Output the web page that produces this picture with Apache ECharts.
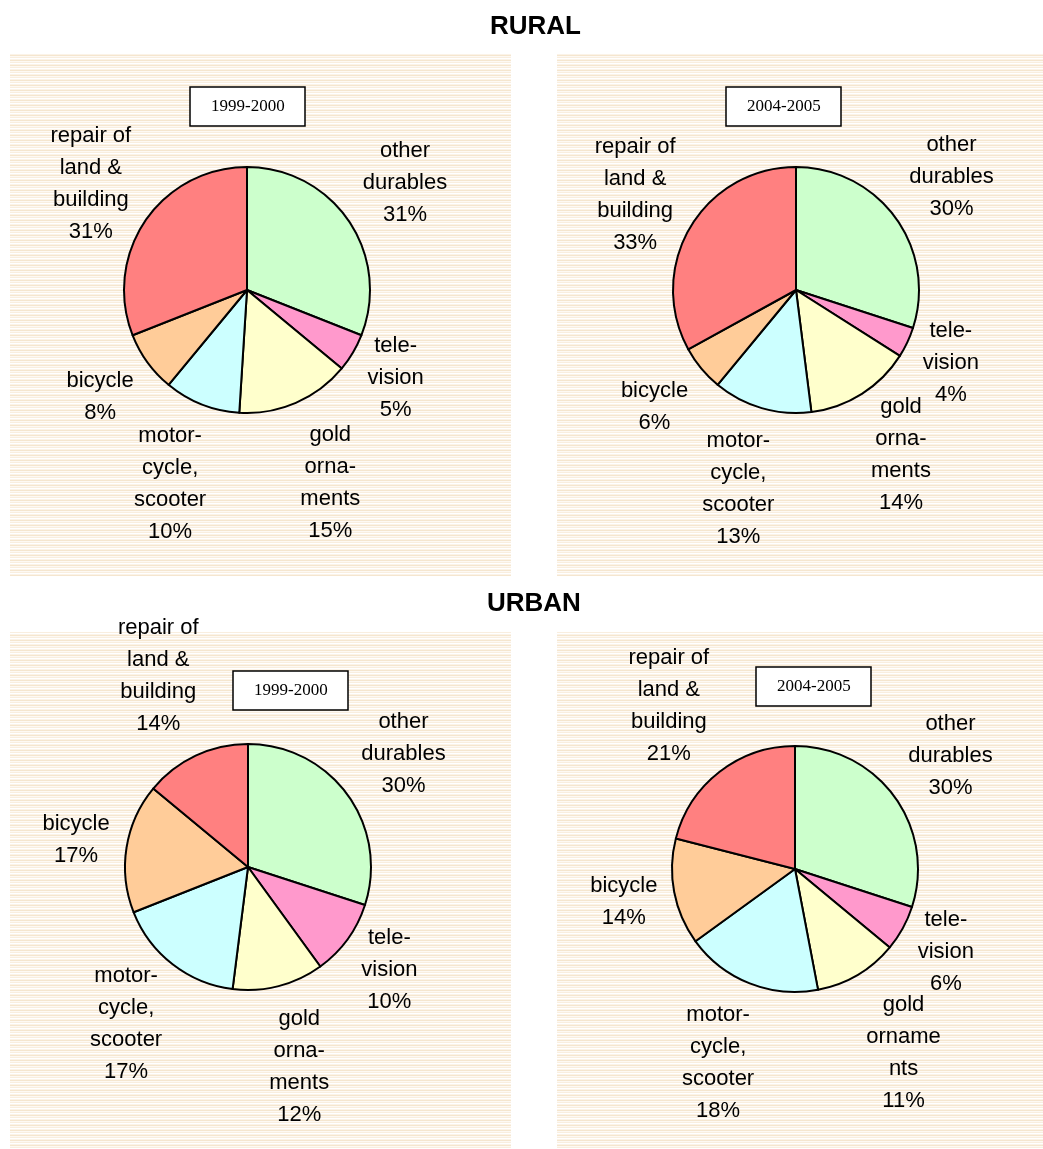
<!DOCTYPE html>
<html>
<head>
<meta charset="utf-8">
<script src="https://cdn.jsdelivr.net/npm/echarts@6/dist/echarts.min.js"></script>
<style>
  html, body { margin: 0; padding: 0; background: #fff; }
  #main { width: 1043px; height: 1149px; }
</style>
</head>
<body>
<div id="main"></div>
<script>
// categories, clockwise from 12 o'clock
var categories = ['other durables', 'television', 'gold ornaments', 'motorcycle, scooter', 'bicycle', 'repair of land & building']
// label text as printed on the chart
var labelText = ['other\ndurables', 'tele-\nvision', 'gold\norna-\nments', 'motor-\ncycle,\nscooter', 'bicycle', 'repair of\nland &\nbuilding']
var labelTextUrban05 = ['other\ndurables', 'tele-\nvision', 'gold\norname\nnts', 'motor-\ncycle,\nscooter', 'bicycle', 'repair of\nland &\nbuilding']
var colors = ['#CCFFCC', '#FF99CC', '#FFFFCC', '#CCFFFF', '#FFCC99', '#FF8080']

// shares, %
var rural2000 = [31, 5, 15, 10, 8, 31]
var rural2005 = [30, 4, 14, 13, 6, 33]
var urban2000 = [30, 10, 12, 17, 17, 14]
var urban2005 = [30, 6, 11, 18, 14, 21]

var headings = ['RURAL', 'URBAN']
var periods = ['1999-2000', '2004-2005']

// striped panel fill
var stripe = document.createElement('canvas')
stripe.width = 8
stripe.height = 5
var sctx = stripe.getContext('2d')
var rows = ['#f5e6cf', '#fdf9f3', '#f9eedf', '#ffffff', '#fbf3e8']
rows.forEach(function (c, i) {
  sctx.fillStyle = c
  sctx.fillRect(0, i, 8, 1)
})
var stripeFill = { image: stripe, repeat: 'repeat' }

var R = 123
var pies = [
  { values: rural2000, labels: labelText, center: [247, 290] },
  { values: rural2005, labels: labelText, center: [796, 290] },
  { values: urban2000, labels: labelText, center: [248, 867] },
  { values: urban2005, labels: labelTextUrban05, center: [795, 869] }
]

// place each label centred just outside the middle of its slice
function placeLabel(params) {
  var p = pies[params.seriesIndex]
  var vals = p.values
  var total = vals.reduce(function (a, b) { return a + b }, 0)
  var before = 0
  for (var i = 0; i < params.dataIndex; i++) before += vals[i]
  var mid = (before + vals[params.dataIndex] / 2) / total * Math.PI * 2
  var dx = Math.sin(mid), dy = -Math.cos(mid)
  var w = params.labelRect.width, h = params.labelRect.height
  var t = Math.min(w / 2 / Math.max(Math.abs(dx), 1e-6), h / 2 / Math.max(Math.abs(dy), 1e-6))
  var d = R + 17 + t
  return {
    x: p.center[0] + dx * d,
    y: p.center[1] + dy * d,
    align: 'center',
    verticalAlign: 'middle'
  }
}

var series = pies.map(function (p) {
  return {
    type: 'pie',
    radius: R,
    center: p.center,
    startAngle: 90,
    clockwise: true,
    avoidLabelOverlap: false,
    animation: false,
    silent: true,
    itemStyle: { borderColor: '#000', borderWidth: 2 },
    label: {
      show: true,
      position: 'outside',
      formatter: '{b}\n{c}%',
      fontFamily: 'Liberation Sans, Arial, sans-serif',
      fontSize: 22,
      lineHeight: 32,
      color: '#000',
      align: 'center'
    },
    labelLine: { show: false },
    labelLayout: placeLabel,
    data: p.values.map(function (v, i) {
      return { name: p.labels[i], value: v, itemStyle: { color: colors[i] } }
    })
  }
})

var boxStyle = {
  padding: [11, 21],
  borderColor: '#000',
  borderWidth: 1.5,
  backgroundColor: '#fff',
  textStyle: { fontFamily: 'Liberation Serif, Times New Roman, serif', fontSize: 17, fontWeight: 'normal', color: '#000' }
}
var headStyle = { fontFamily: 'Liberation Sans, Arial, sans-serif', fontSize: 26, fontWeight: 'bold', color: '#000' }

var myChart = echarts.init(document.getElementById('main'), null, { renderer: 'canvas' })
myChart.setOption({
  backgroundColor: '#fff',
  title: [
    { text: headings[0], left: 490, top: 14, padding: 0, textStyle: headStyle },
    { text: headings[1], left: 487, top: 591, padding: 0, textStyle: headStyle },
    Object.assign({ text: periods[0], left: 190, top: 87 }, boxStyle),
    Object.assign({ text: periods[1], left: 726, top: 87 }, boxStyle),
    Object.assign({ text: periods[0], left: 233, top: 671 }, boxStyle),
    Object.assign({ text: periods[1], left: 756, top: 667 }, boxStyle)
  ],
  graphic: [
    { type: 'rect', shape: { x: 10, y: 53, width: 501, height: 523 }, style: { fill: stripeFill }, silent: true },
    { type: 'rect', shape: { x: 557, y: 53, width: 486, height: 523 }, style: { fill: stripeFill }, silent: true },
    { type: 'rect', shape: { x: 10, y: 632, width: 501, height: 517 }, style: { fill: stripeFill }, silent: true },
    { type: 'rect', shape: { x: 557, y: 632, width: 486, height: 517 }, style: { fill: stripeFill }, silent: true }
  ],
  series: series
})
</script>
</body>
</html>
